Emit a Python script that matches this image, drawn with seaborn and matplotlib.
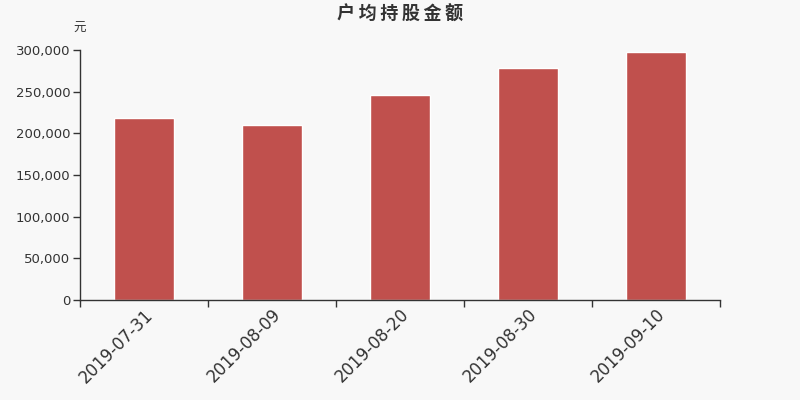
import matplotlib
matplotlib.use('Agg')
import matplotlib.pyplot as plt
import seaborn as sns
import pandas as pd
from matplotlib.ticker import FuncFormatter, FixedLocator

dates = ['2019-07-31', '2019-08-09', '2019-08-20', '2019-08-30', '2019-09-10']
amounts = [218000, 210000, 245500, 278500, 298000]

sns.set_style('white')
plt.rcParams['font.family'] = ['DejaVu Sans', 'Noto Sans CJK SC']

df = pd.DataFrame({'date': dates, 'amount': amounts})

fig = plt.figure(figsize=(8, 4), dpi=100, facecolor='#f8f8f8')
ax = fig.add_axes([0.1, 0.25, 0.8, 0.625])
ax.set_facecolor('#f8f8f8')

sns.barplot(data=df, x='date', y='amount', color='#c0504d', saturation=1,
            width=0.47, ax=ax)

ax.set_xlim(-0.5, len(dates) - 0.5)
ax.set_ylim(0, 300000)
ax.set_yticks(range(0, 300001, 50000))
ax.yaxis.set_major_formatter(FuncFormatter(lambda v, p: '{:,.0f}'.format(v)))

# category boundaries get the tick marks, labels sit in the middle
ax.xaxis.set_major_locator(FixedLocator([i - 0.5 for i in range(len(dates) + 1)]))
ax.xaxis.set_minor_locator(FixedLocator(range(len(dates))))
ax.set_xticklabels([], minor=False)
ax.set_xticklabels(dates, minor=True, rotation=45, ha='right',
                   rotation_mode='anchor', fontsize=12, color='#333333')
ax.tick_params(axis='x', which='minor', bottom=True, length=0, pad=4)
ax.tick_params(axis='x', which='major', bottom=True, length=5, width=1,
               color='#333333', direction='out')
ax.tick_params(axis='y', left=True, length=5, width=1, color='#333333',
               direction='out', labelsize=9.5, labelcolor='#333333', pad=2)

for side in ['top', 'right']:
    ax.spines[side].set_visible(False)
for side in ['left', 'bottom']:
    ax.spines[side].set_color('#333333')
    ax.spines[side].set_linewidth(1)

ax.set_xlabel('')
ax.set_ylabel('')

fig.text(0.5, 0.963, '\u2009'.join('户均持股金额'), ha='center', va='center',
         fontsize=13, fontweight='bold', color='#333333')
fig.text(0.1, 0.928, '元', ha='center', va='center', fontsize=9, color='#333333')

plt.savefig('out.png', dpi=100, facecolor=fig.get_facecolor())
